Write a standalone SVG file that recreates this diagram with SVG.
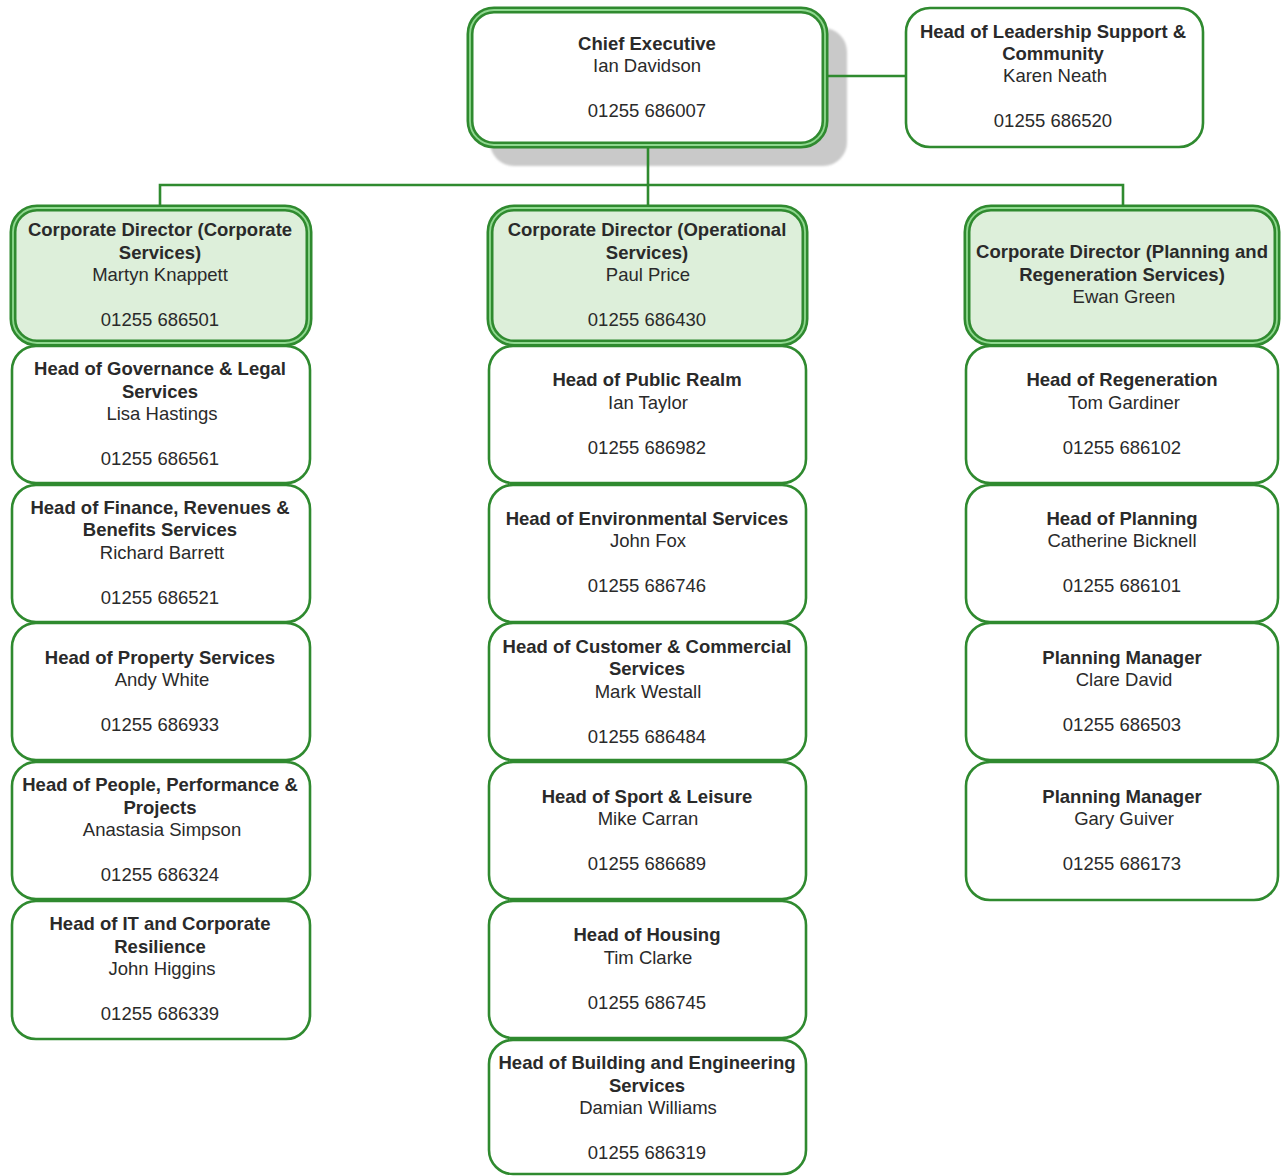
<svg xmlns="http://www.w3.org/2000/svg" width="1281" height="1176" viewBox="0 0 1281 1176">
<defs>
<style>
text{font-family:"Liberation Sans",Arial,sans-serif;font-size:18.5px;fill:#2a2a2a;text-anchor:middle}
.b{font-weight:bold}
.box{fill:#ffffff;stroke:#2f8a2f;stroke-width:2.6}
.dbl{stroke:#2f8a2f;stroke-width:7}
.dbl2{fill:none;stroke:#8fd88f;stroke-width:1.8}
.dir{fill:#ddefda}
.wh{fill:#ffffff}
.conn{fill:none;stroke:#2f8a2f;stroke-width:2.6}
</style>
<filter id="blur" x="-10%" y="-10%" width="120%" height="120%"><feGaussianBlur stdDeviation="1.2"/></filter>
</defs>
<rect width="1281" height="1176" fill="#ffffff"/>
<rect id="ce-shadow" x="490" y="28" width="357" height="138" rx="24" fill="#c9c9c9" filter="url(#blur)"/>
<g id="connectors">
<line class="conn" x1="826" y1="76" x2="905" y2="76"/>
<line class="conn" x1="648" y1="146" x2="648" y2="207"/>
<polyline class="conn" points="160,207 160,185 1123,185 1123,207"/>
</g>
<g id="chief-executive">
<rect class="dbl wh" x="470" y="10" width="355" height="135" rx="24"/>
<rect class="dbl2" x="470" y="10" width="355" height="135" rx="24"/>
<text x="647" y="49.5" class="b">Chief Executive</text>
<text x="647" y="72">Ian Davidson</text>
<text x="647" y="117">01255 686007</text>
</g>
<g id="leadership-support">
<rect class="box" x="906" y="8" width="297" height="139" rx="24"/>
<text x="1053" y="37.5" class="b">Head of Leadership Support &amp;</text>
<text x="1053" y="60" class="b">Community</text>
<text x="1055" y="82">Karen Neath</text>
<text x="1053" y="127">01255 686520</text>
</g>
<!-- left column -->
<g id="dir-corporate">
<rect class="dbl dir" x="13" y="208" width="296" height="135" rx="24"/>
<rect class="dbl2" x="13" y="208" width="296" height="135" rx="24"/>
<text x="160" y="236" class="b">Corporate Director (Corporate</text>
<text x="160" y="258.5" class="b">Services)</text>
<text x="160" y="281">Martyn Knappett</text>
<text x="160" y="326">01255 686501</text>
</g>
<g id="governance">
<rect class="box" x="12" y="346" width="298" height="137" rx="24"/>
<text x="160" y="375" class="b">Head of Governance &amp; Legal</text>
<text x="160" y="397.5" class="b">Services</text>
<text x="162" y="420">Lisa Hastings</text>
<text x="160" y="465">01255 686561</text>
</g>
<g id="finance">
<rect class="box" x="12" y="485" width="298" height="137" rx="24"/>
<text x="160" y="513.5" class="b">Head of Finance, Revenues &amp;</text>
<text x="160" y="536" class="b">Benefits Services</text>
<text x="162" y="558.5">Richard Barrett</text>
<text x="160" y="603.5">01255 686521</text>
</g>
<g id="property">
<rect class="box" x="12" y="623" width="298" height="137" rx="24"/>
<text x="160" y="663.5" class="b">Head of Property Services</text>
<text x="162" y="686">Andy White</text>
<text x="160" y="731">01255 686933</text>
</g>
<g id="people">
<rect class="box" x="12" y="762" width="298" height="137" rx="24"/>
<text x="160" y="791" class="b">Head of People, Performance &amp;</text>
<text x="160" y="813.5" class="b">Projects</text>
<text x="162" y="836">Anastasia Simpson</text>
<text x="160" y="881">01255 686324</text>
</g>
<g id="it">
<rect class="box" x="12" y="901" width="298" height="138" rx="24"/>
<text x="160" y="930" class="b">Head of IT and Corporate</text>
<text x="160" y="952.5" class="b">Resilience</text>
<text x="162" y="975">John Higgins</text>
<text x="160" y="1020">01255 686339</text>
</g>
<!-- middle column -->
<g id="dir-operational">
<rect class="dbl dir" x="490" y="208" width="315" height="135" rx="24"/>
<rect class="dbl2" x="490" y="208" width="315" height="135" rx="24"/>
<text x="647" y="236" class="b">Corporate Director (Operational</text>
<text x="647" y="258.5" class="b">Services)</text>
<text x="648" y="281">Paul Price</text>
<text x="647" y="326">01255 686430</text>
</g>
<g id="public-realm">
<rect class="box" x="489" y="346" width="317" height="137" rx="24"/>
<text x="647" y="386" class="b">Head of Public Realm</text>
<text x="648" y="408.5">Ian Taylor</text>
<text x="647" y="453.5">01255 686982</text>
</g>
<g id="environmental">
<rect class="box" x="489" y="485" width="317" height="137" rx="24"/>
<text x="647" y="524.5" class="b">Head of Environmental Services</text>
<text x="648" y="547">John Fox</text>
<text x="647" y="592">01255 686746</text>
</g>
<g id="customer">
<rect class="box" x="489" y="623" width="317" height="137" rx="24"/>
<text x="647" y="652.5" class="b">Head of Customer &amp; Commercial</text>
<text x="647" y="675" class="b">Services</text>
<text x="648" y="697.5">Mark Westall</text>
<text x="647" y="742.5">01255 686484</text>
</g>
<g id="sport">
<rect class="box" x="489" y="762" width="317" height="137" rx="24"/>
<text x="647" y="802.5" class="b">Head of Sport &amp; Leisure</text>
<text x="648" y="825">Mike Carran</text>
<text x="647" y="869.5">01255 686689</text>
</g>
<g id="housing">
<rect class="box" x="489" y="901" width="317" height="137" rx="24"/>
<text x="647" y="941" class="b">Head of Housing</text>
<text x="648" y="963.5">Tim Clarke</text>
<text x="647" y="1008.5">01255 686745</text>
</g>
<g id="building">
<rect class="box" x="489" y="1040" width="317" height="134" rx="24"/>
<text x="647" y="1069" class="b">Head of Building and Engineering</text>
<text x="647" y="1091.5" class="b">Services</text>
<text x="648" y="1114">Damian Williams</text>
<text x="647" y="1158.5">01255 686319</text>
</g>
<!-- right column -->
<g id="dir-planning">
<rect class="dbl dir" x="967" y="208" width="310" height="135" rx="24"/>
<rect class="dbl2" x="967" y="208" width="310" height="135" rx="24"/>
<text x="1122" y="258" class="b">Corporate Director (Planning and</text>
<text x="1122" y="280.5" class="b">Regeneration Services)</text>
<text x="1124" y="303">Ewan Green</text>
</g>
<g id="regeneration">
<rect class="box" x="966" y="346" width="312" height="137" rx="24"/>
<text x="1122" y="386" class="b">Head of Regeneration</text>
<text x="1124" y="408.5">Tom Gardiner</text>
<text x="1122" y="453.5">01255 686102</text>
</g>
<g id="planning">
<rect class="box" x="966" y="485" width="312" height="137" rx="24"/>
<text x="1122" y="524.5" class="b">Head of Planning</text>
<text x="1122" y="547">Catherine Bicknell</text>
<text x="1122" y="592">01255 686101</text>
</g>
<g id="planning-manager-1">
<rect class="box" x="966" y="623" width="312" height="137" rx="24"/>
<text x="1122" y="663.5" class="b">Planning Manager</text>
<text x="1124" y="686">Clare David</text>
<text x="1122" y="731">01255 686503</text>
</g>
<g id="planning-manager-2">
<rect class="box" x="966" y="762" width="312" height="138" rx="24"/>
<text x="1122" y="802.5" class="b">Planning Manager</text>
<text x="1124" y="825">Gary Guiver</text>
<text x="1122" y="869.5">01255 686173</text>
</g>
</svg>
